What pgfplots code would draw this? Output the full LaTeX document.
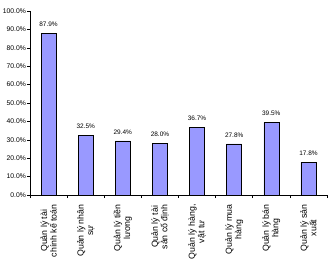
\documentclass[border=0pt]{standalone}
\usepackage{fontspec}
\setmainfont{Liberation Sans}
\usepackage{pgfplots}
\pgfplotsset{compat=1.18}
\definecolor{barblue}{HTML}{9999FF}

\begin{document}
\begin{tikzpicture}[x=1bp,y=1bp]
\begin{axis}[
    at={(0,0)}, anchor=south west,
    scale only axis,
    width=297bp, height=184bp,
    xmin=0.5, xmax=8.5,
    ymin=0, ymax=100,
    axis x line*=bottom,
    axis y line*=left,
    axis line style={black, line width=0.6pt},
    tick align=outside,
    tick style={black, line width=0.5pt},
    major tick length=3bp,
    xtick={1,...,8},
    xticklabels={{Quản lý tài\\chính kế toán},{Quản lý nhân\\sự},{Quản lý tiền\\lương},{Quản lý tài\\sản cố định},{Quản lý hàng,\\vật tư},{Quản lý mua\\hàng},{Quản lý bán\\hàng},{Quản lý sản\\xuất}},
    x tick style={draw=none},
    minor xtick={0.5,1.5,...,8.5},
    minor tick length=3bp,
    minor x tick style={draw=black, line width=0.5pt},
    xticklabel style={rotate=90, anchor=east, align=center, font=\fontsize{8.8}{9.6}\selectfont, xshift=-3bp},
    ytick={0,10,...,100},
    yticklabel={\pgfmathprintnumber[fixed,fixed zerofill,precision=1,assume math mode=true]{\tick}\%},
    yticklabel style={font=\fontsize{6.8}{7.5}\selectfont, inner xsep=1bp},
    ybar,
    bar width=15bp,
    nodes near coords={\pgfmathprintnumber[fixed,fixed zerofill,precision=1,assume math mode=true]{\pgfplotspointmeta}\%},
    nodes near coords style={font=\fontsize{6.5}{7}\selectfont, yshift=3bp},
]
\addplot[fill=barblue, draw=black, line width=0.6pt] coordinates {
    (1,87.9) (2,32.5) (3,29.4) (4,28.0) (5,36.7) (6,27.8) (7,39.5) (8,17.8)
};
\end{axis}
\pgfresetboundingbox
\path[use as bounding box] (-30,-74) rectangle (304,195);
\end{tikzpicture}
\end{document}
